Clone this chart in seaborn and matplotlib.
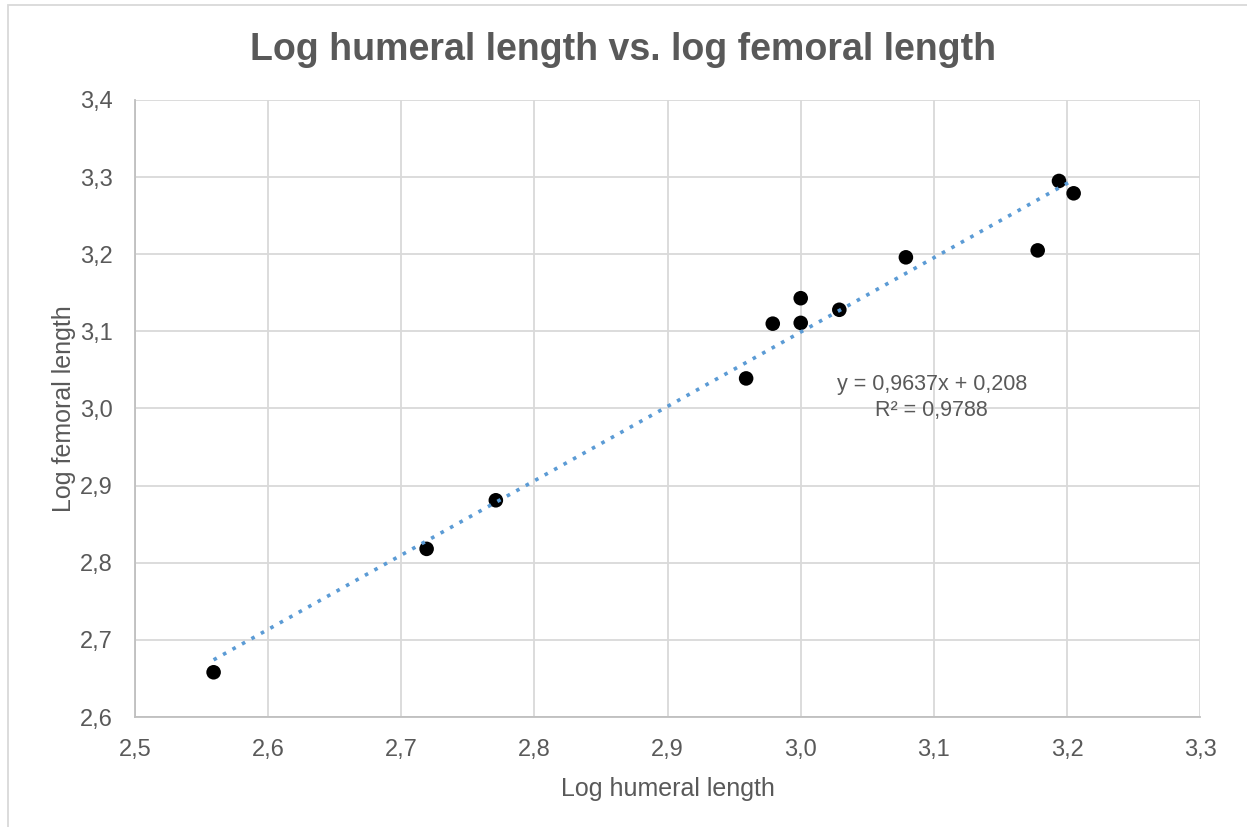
import numpy as np
import pandas as pd
import matplotlib
matplotlib.use("Agg")
import matplotlib.pyplot as plt
import seaborn as sns
from matplotlib.ticker import FuncFormatter, MultipleLocator

log_humeral = [2.559, 2.719, 2.771, 2.959, 2.979, 3.000, 3.000, 3.029, 3.079, 3.178, 3.194, 3.205]
log_femoral = [2.658, 2.818, 2.881, 3.039, 3.110, 3.143, 3.111, 3.128, 3.196, 3.205, 3.295, 3.279]
slope = 0.9637
intercept = 0.208
eq_text = "y = 0,9637x + 0,208\nR² = 0,9788"

df = pd.DataFrame({"x": log_humeral, "y": log_femoral})

sns.set_theme(style="white")
plt.rcParams['font.family'] = ['Liberation Sans', 'DejaVu Sans']

fig = plt.figure(figsize=(12.47, 8.27), dpi=100)
ax = fig.add_axes([0.1083, 0.133, 0.8541, 0.7461])

ax.grid(True, color="#d9d9d9", linewidth=1.3)
ax.set_axisbelow(True)

sns.scatterplot(data=df, x="x", y="y", ax=ax, color="black", s=110, edgecolor="none", zorder=3)

xs = np.array([min(log_humeral), max(log_humeral)])
ax.plot(xs, slope * xs + intercept, color="#5b9bd5", linestyle=(0, (1, 2)), linewidth=2.6, zorder=4)

ax.set_xlim(2.5, 3.3)
ax.set_ylim(2.6, 3.4)
ax.xaxis.set_major_locator(MultipleLocator(0.1))
ax.yaxis.set_major_locator(MultipleLocator(0.1))
fmt = FuncFormatter(lambda v, p: f"{v:.1f}".replace(".", ","))
ax.xaxis.set_major_formatter(fmt)
ax.yaxis.set_major_formatter(fmt)
ax.tick_params(axis="both", labelsize=17, colors="#595959", length=0)
ax.tick_params(axis="x", pad=16)
ax.tick_params(axis="y", pad=16)

for s in ["top", "right"]:
    ax.spines[s].set_visible(False)
for s in ["left", "bottom"]:
    ax.spines[s].set_color("#bfbfbf")
    ax.spines[s].set_linewidth(1.3)

ax.set_xlabel("Log humeral length", fontsize=18, color="#595959", labelpad=11)
ax.set_ylabel("Log femoral length", fontsize=18, color="#595959", labelpad=3)

ax.text(0.748, 0.518, eq_text, transform=ax.transAxes, ha="center", va="center",
        fontsize=15.5, color="#595959", linespacing=1.3)

fig.text(0.5, 0.939, "Log humeral length vs. log femoral length", ha="center", va="center",
         fontsize=27, fontweight="bold", color="#595959")

border = plt.Rectangle((0.0065, -0.01), 1.1, 1.0035, transform=fig.transFigure, fill=False,
                       edgecolor="#d9d9d9", linewidth=1.3)
fig.add_artist(border)

fig.savefig("out.png", dpi=100)
